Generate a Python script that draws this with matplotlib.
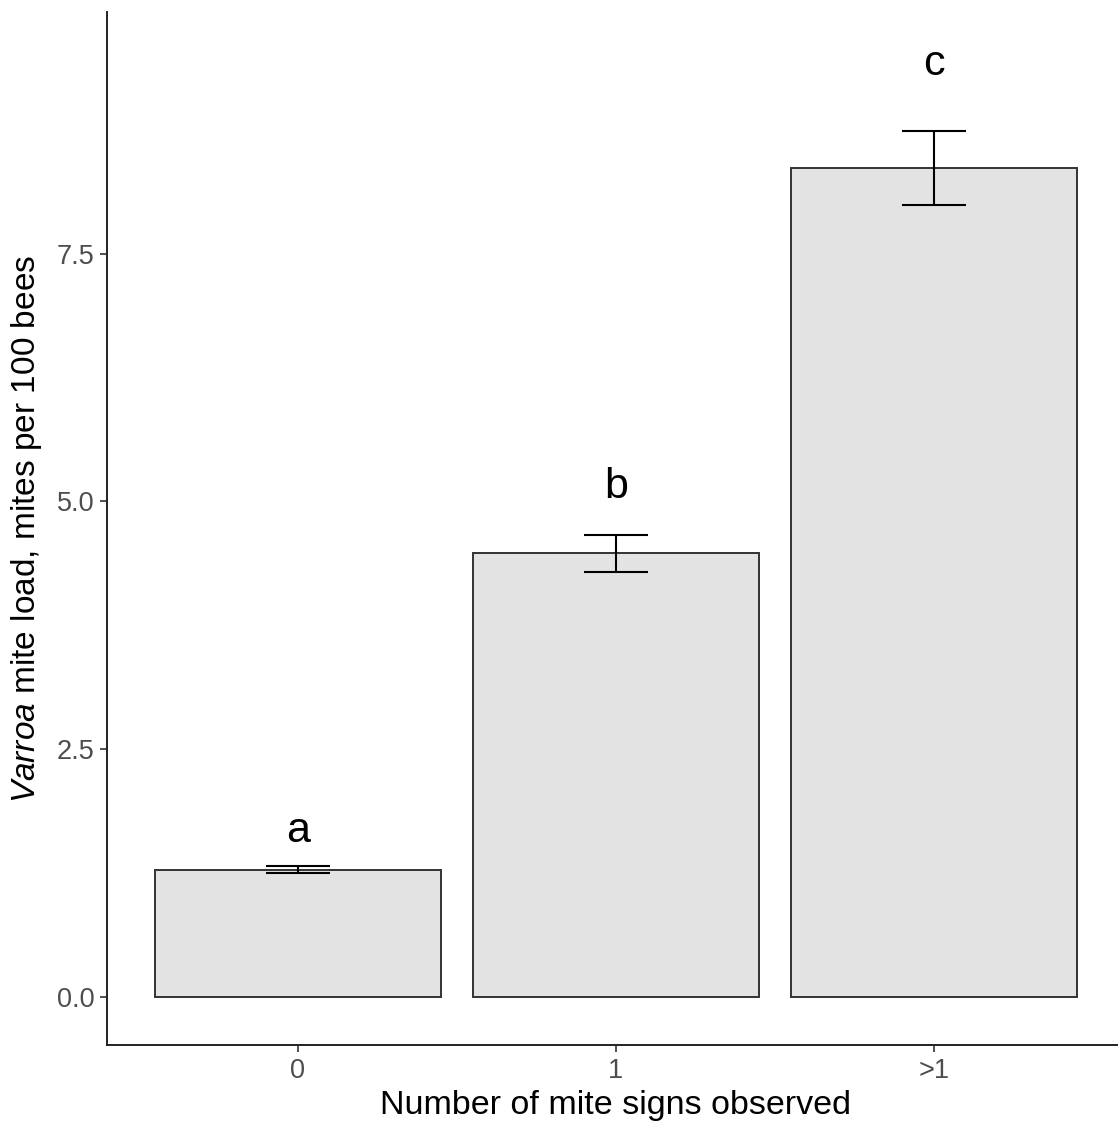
import matplotlib

matplotlib.use("Agg")
import matplotlib.pyplot as plt

# 관측된 진드기 징후 수별 평균 Varroa 부하
categories = ["0", "1", ">1"]
mean_load = [1.28, 4.48, 8.37]
err_low = [1.25, 4.29, 7.99]
err_high = [1.32, 4.66, 8.74]
sig_letters = ["a", "b", "c"]
letter_y = [1.67, 5.15, 9.42]
y_ticks = [0.0, 2.5, 5.0, 7.5]

plt.rcParams["font.family"] = ["Liberation Sans", "DejaVu Sans"]
plt.rcParams["mathtext.fontset"] = "custom"
plt.rcParams["mathtext.rm"] = "Liberation Sans"
plt.rcParams["mathtext.it"] = "Liberation Sans:italic"

fig = plt.figure(figsize=(11.18, 11.26), dpi=100)
ax = fig.add_axes([107 / 1118, 81 / 1126, 1018 / 1118, 1033 / 1126])

x = list(range(1, len(categories) + 1))
ax.bar(x, mean_load, width=0.9, color="#E3E3E3", edgecolor="#333333", linewidth=1.4, zorder=2)

yerr = [[m - lo for m, lo in zip(mean_load, err_low)],
        [hi - m for m, hi in zip(mean_load, err_high)]]
ax.errorbar(x, mean_load, yerr=yerr, fmt="none", ecolor="black", elinewidth=1.5,
            capsize=23, capthick=1.5, zorder=3)

for xi, lab, ly in zip(x, sig_letters, letter_y):
    ax.text(xi, ly, lab, ha="center", va="center", fontsize=31, color="black")

ax.set_xlim(0.4, 3.6)
ax.set_ylim(-0.485, 9.94)
ax.set_xticks(x)
ax.set_xticklabels(categories)
ax.set_yticks(y_ticks)
ax.set_yticklabels([f"{t:.1f}" for t in y_ticks])

for side in ("top", "right"):
    ax.spines[side].set_visible(False)
for side in ("left", "bottom"):
    ax.spines[side].set_linewidth(1.4)
    ax.spines[side].set_color("#222222")

ax.tick_params(axis="both", labelsize=19.5, labelcolor="#4D4D4D", length=5, width=1.2,
               color="#333333", pad=4)

ax.set_xlabel("Number of mite signs observed", fontsize=24.5, labelpad=5)
ax.set_ylabel(r"$\it{Varroa}$ mite load, mites per 100 bees", fontsize=24, labelpad=9)

fig.savefig("out.png", dpi=100)
